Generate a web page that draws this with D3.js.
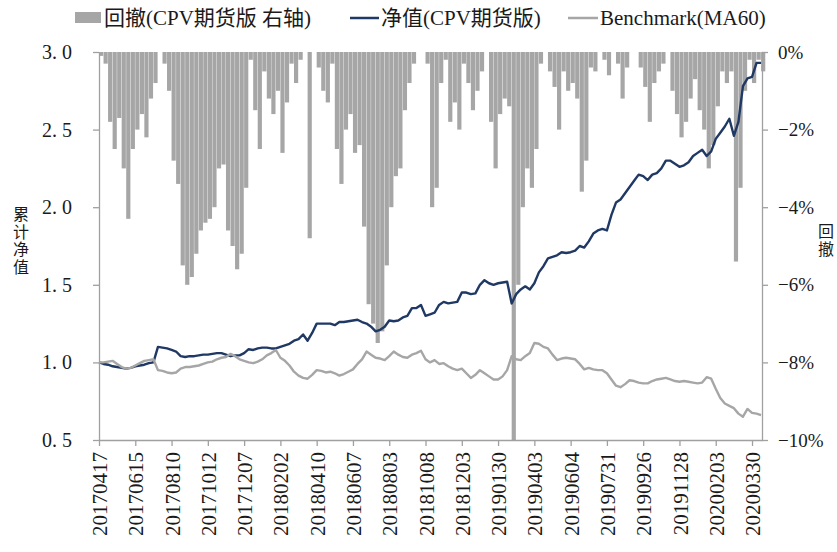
<!DOCTYPE html>
<html>
<head>
<meta charset="utf-8">
<script src="https://cdn.jsdelivr.net/npm/d3@7/dist/d3.min.js"></script>
<style>
body { margin: 0; background: #fff; }
text { font-family: "Liberation Serif", "Noto Sans CJK SC", serif; fill: #1a1a1a; }
</style>
</head>
<body>
<svg id="chart" width="837" height="552"></svg>
<script>
// one point every 5 trading days, a tick label every 8 points (40 trading days)
const tickDates = ["20170417", "20170615", "20170810", "20171012", "20171207", "20180202",
    "20180410", "20180607", "20180803", "20181008", "20181203", "20190130", "20190403",
    "20190604", "20190731", "20190926", "20191128", "20200203", "20200330"];

const nav = [1.00, 0.99, 0.985, 0.975, 0.97, 0.965, 0.96, 0.965, 0.975, 0.98,
    0.985, 0.995, 1.00, 1.10, 1.095, 1.09, 1.08, 1.07, 1.04, 1.035,
    1.04, 1.04, 1.045, 1.05, 1.05, 1.055, 1.06, 1.06, 1.05, 1.04,
    1.045, 1.045, 1.06, 1.085, 1.08, 1.09, 1.095, 1.095, 1.09, 1.09,
    1.10, 1.11, 1.12, 1.14, 1.15, 1.18, 1.14, 1.19, 1.25, 1.25,
    1.25, 1.25, 1.24, 1.26, 1.26, 1.265, 1.27, 1.275, 1.26, 1.25,
    1.23, 1.20, 1.21, 1.23, 1.27, 1.265, 1.27, 1.29, 1.30, 1.35,
    1.35, 1.37, 1.30, 1.31, 1.32, 1.37, 1.39, 1.38, 1.385, 1.39,
    1.45, 1.45, 1.44, 1.445, 1.50, 1.53, 1.51, 1.50, 1.51, 1.515,
    1.52, 1.38, 1.44, 1.47, 1.49, 1.47, 1.51, 1.58, 1.62, 1.67,
    1.68, 1.69, 1.71, 1.705, 1.71, 1.72, 1.75, 1.74, 1.78, 1.83,
    1.85, 1.86, 1.85, 1.95, 2.03, 2.05, 2.09, 2.13, 2.17, 2.21,
    2.20, 2.175, 2.21, 2.22, 2.25, 2.30, 2.30, 2.28, 2.26, 2.27,
    2.29, 2.33, 2.35, 2.37, 2.33, 2.36, 2.44, 2.48, 2.52, 2.57,
    2.46, 2.55, 2.78, 2.83, 2.84, 2.93, 2.93];

const benchmark = [1.00, 1.00, 1.005, 1.01, 0.99, 0.97, 0.96, 0.965, 0.98, 0.995,
    1.01, 1.015, 1.02, 0.95, 0.945, 0.935, 0.93, 0.935, 0.96, 0.97,
    0.97, 0.975, 0.98, 0.99, 1.00, 1.005, 1.02, 1.03, 1.035, 1.055,
    1.04, 1.02, 1.01, 1.00, 0.995, 1.005, 1.02, 1.045, 1.06, 1.08,
    1.03, 1.01, 0.98, 0.94, 0.915, 0.90, 0.895, 0.92, 0.95, 0.945,
    0.935, 0.94, 0.93, 0.915, 0.925, 0.94, 0.955, 0.99, 1.02, 1.07,
    1.05, 1.03, 1.025, 1.015, 1.04, 1.07, 1.05, 1.035, 1.03, 1.05,
    1.06, 1.075, 1.02, 1.00, 1.015, 0.99, 0.995, 0.975, 0.96, 0.95,
    0.96, 0.93, 0.90, 0.92, 0.95, 0.93, 0.91, 0.89, 0.89, 0.91,
    0.95, 1.04, 1.02, 1.015, 1.04, 1.06, 1.125, 1.12, 1.10, 1.09,
    1.05, 1.015, 1.025, 1.03, 1.025, 1.02, 0.99, 0.955, 0.965, 0.955,
    0.95, 0.95, 0.93, 0.89, 0.85, 0.84, 0.86, 0.885, 0.88, 0.87,
    0.865, 0.865, 0.88, 0.89, 0.895, 0.90, 0.89, 0.88, 0.875, 0.88,
    0.875, 0.87, 0.865, 0.87, 0.905, 0.895, 0.83, 0.77, 0.735, 0.72,
    0.705, 0.67, 0.65, 0.70, 0.675, 0.67, 0.66];

// drawdown in percent (right axis)
const drawdown = [-0.1, -0.3, -1.8, -2.5, -1.7, -3.0, -4.3, -2.5, -2.0, -1.6,
    -2.2, -1.2, -0.8, 0, -0.3, -1.0, -2.8, -3.4, -5.5, -6.0,
    -5.8, -5.2, -4.6, -4.4, -4.3, -4.0, -3.0, -2.9, -4.6, -5.0,
    -5.6, -5.2, -3.5, -0.2, -1.5, -2.5, -0.5, -1.2, -1.6, -1.0,
    -2.6, -1.3, -0.3, -0.8, -0.2, 0, -4.8, 0, -0.4, -1.0,
    -1.3, -0.3, -2.5, -3.4, -2.0, -1.6, -2.6, -2.4, -4.5, -6.5,
    -7.0, -7.5, -7.2, -5.5, -4.0, -3.2, -3.0, -1.5, -0.8, -0.3,
    0, 0, -0.3, -4.0, -3.5, -0.8, -0.2, -1.8, -1.3, -2.0,
    -0.3, -0.8, -1.5, -1.0, -0.5, 0, -1.8, -3.0, -1.6, -1.2,
    -1.4, -10.0, -6.0, -4.0, -3.0, -3.5, -2.5, -0.3, 0, -0.5,
    -0.9, -2.0, -0.5, -1.0, -0.8, -1.2, -3.6, -2.8, -0.4, -0.5,
    0, -0.2, -0.6, 0, -0.3, -1.2, -0.4, 0, 0, -0.4,
    -0.9, -1.8, -0.8, -0.5, -0.3, 0, -1.0, -1.6, -2.2, -1.8,
    -1.2, -0.7, -1.5, -2.0, -3.0, -2.4, -1.4, -0.5, -0.8, -0.5,
    -5.4, -3.5, -1.0, -0.2, -0.8, -0.2, -0.5];

const leftTicks = [0.5, 1.0, 1.5, 2.0, 2.5, 3.0];
const rightTicks = [0, -2, -4, -6, -8, -10];
const pointsPerTick = 8;

const NAV_COLOR = "#1f3864";
const GRAY = "#a6a6a6";
const AXIS_COLOR = "#a0a0a0";

drawChart(d3.select("#chart"));

function drawChart(svg) {
    const left = 99, right = 762, top = 52, bottom = 440;

    const x = d3.scaleLinear().domain([0, 146.2]).range([left, right]);
    const yLeft = d3.scaleLinear().domain([0.5, 3.0]).range([bottom, top]);
    const yRight = d3.scaleLinear().domain([-10, 0]).range([bottom, top]);
    const step = x(1) - x(0);

    // drawdown bars hanging from 0%
    svg.append("g")
        .selectAll("rect")
        .data(drawdown)
        .join("rect")
        .attr("x", (d, i) => x(i))
        .attr("y", yRight(0))
        .attr("width", step - 0.35)
        .attr("height", d => yRight(d) - yRight(0))
        .attr("fill", GRAY);

    const line = d3.line()
        .x((d, i) => x(i))
        .y(d => yLeft(d));

    svg.append("path")
        .datum(nav)
        .attr("d", line)
        .attr("fill", "none")
        .attr("stroke", NAV_COLOR)
        .attr("stroke-width", 2.4)
        .attr("stroke-linejoin", "round");

    svg.append("path")
        .datum(benchmark)
        .attr("d", line)
        .attr("fill", "none")
        .attr("stroke", GRAY)
        .attr("stroke-width", 2.4)
        .attr("stroke-linejoin", "round");

    // axes
    const gLeft = svg.append("g")
        .attr("transform", `translate(${left},0)`)
        .call(d3.axisLeft(yLeft)
            .tickValues(leftTicks)
            .tickSize(6)
            .tickSizeOuter(0)
            .tickFormat(d => d3.format(".1f")(d).replace(".", ". ")));
    styleAxis(gLeft, 20);
    gLeft.selectAll("text").attr("x", -27);

    const gRight = svg.append("g")
        .attr("transform", `translate(${right},0)`)
        .call(d3.axisRight(yRight)
            .tickValues(rightTicks)
            .tickSize(6)
            .tickSizeOuter(0)
            .tickFormat(d => (d < 0 ? "\u2212" : "") + Math.abs(d) + "%"));
    styleAxis(gRight, 19);
    gRight.selectAll("text").attr("x", 16);

    const tickIdx = tickDates.map((d, j) => j * pointsPerTick);
    const gBottom = svg.append("g")
        .attr("transform", `translate(0,${bottom})`)
        .call(d3.axisBottom(x)
            .tickValues(tickIdx)
            .tickSize(6)
            .tickSizeOuter(0)
            .tickFormat((d, j) => tickDates[j]));
    styleAxis(gBottom, 21);
    gBottom.selectAll("text")
        .attr("transform", "rotate(-90)")
        .attr("x", -12)
        .attr("y", 0)
        .attr("dy", "0.36em")
        .style("text-anchor", "end");

    // axis titles, written top to bottom
    verticalTitle(svg, "累计净值", 21, 206, 16);
    verticalTitle(svg, "回撤", 826, 223, 16);

    // legend
    const lg = svg.append("g").style("font-size", "21px");
    lg.append("rect").attr("x", 75).attr("y", 12).attr("width", 26).attr("height", 11).attr("fill", GRAY);
    lg.append("text").attr("x", 104).attr("y", 25).text("回撤(CPV期货版 右轴)");
    lg.append("line").attr("x1", 350).attr("x2", 379).attr("y1", 18).attr("y2", 18)
        .attr("stroke", NAV_COLOR).attr("stroke-width", 2.5);
    lg.append("text").attr("x", 381).attr("y", 25).text("净值(CPV期货版)");
    lg.append("line").attr("x1", 568).attr("x2", 598).attr("y1", 18).attr("y2", 18)
        .attr("stroke", GRAY).attr("stroke-width", 2.5);
    lg.append("text").attr("x", 600).attr("y", 25).text("Benchmark(MA60)");
}

function styleAxis(g, fontSize) {
    g.select(".domain").attr("stroke", AXIS_COLOR).attr("stroke-width", 1.3);
    g.selectAll(".tick line").attr("stroke", AXIS_COLOR).attr("stroke-width", 1.3);
    g.selectAll("text")
        .style("font-size", fontSize + "px")
        .style("font-family", "'Liberation Serif', serif")
        .attr("fill", "#1a1a1a");
}

function verticalTitle(svg, label, cx, yTop, size) {
    svg.append("text")
        .attr("x", cx)
        .attr("y", yTop)
        .style("writing-mode", "vertical-rl")
        .style("text-orientation", "upright")
        .style("letter-spacing", "1.5px")
        .style("font-size", size + "px")
        .style("font-family", "'Noto Sans CJK SC', sans-serif")
        .text(label);
}
</script>
</body>
</html>
